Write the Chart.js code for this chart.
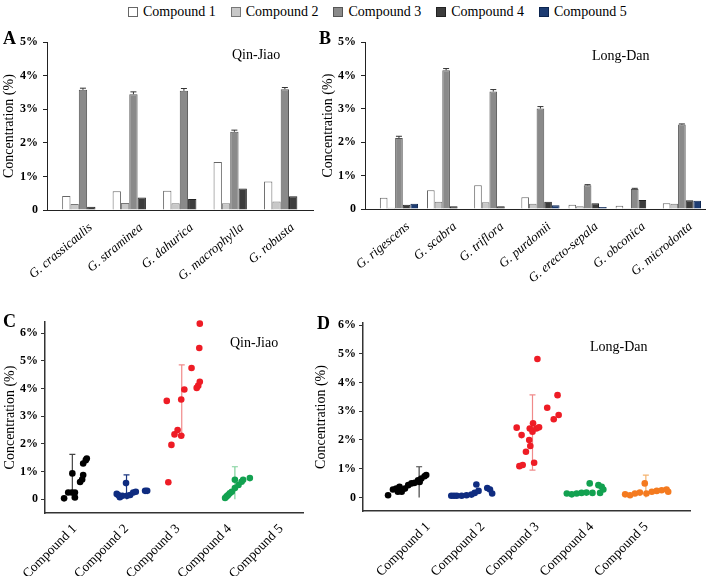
<!DOCTYPE html>
<html>
<head>
<meta charset="utf-8">
<script src="https://cdn.jsdelivr.net/npm/chart.js@4"></script>
<style>
  body { margin: 0; background: #fff; width: 709px; height: 576px; position: relative; overflow: hidden; font-family: 'Liberation Serif', serif; }
  canvas { position: absolute; }
  .lbl { position: absolute; font-family: 'Liberation Serif', serif; color: #000; white-space: nowrap; }
  .letter { font-size: 18px; font-weight: bold; }
  .pname { font-size: 14px; }
  #legend { position: absolute; left: 128px; top: 4px; display: flex; gap: 15px; font-size: 14px; }
  #legend span.item { display: flex; align-items: center; }
  #legend span.box { display: inline-block; width: 8px; height: 8px; margin-right: 5px; border: 1px solid #555; }
</style>
</head>
<body>
<div id="legend"></div>

<canvas id="chartA" width="330" height="260" style="left:0;top:30px"></canvas>
<canvas id="chartB" width="399" height="260" style="left:310px;top:30px"></canvas>
<canvas id="chartC" width="340" height="276" style="left:0;top:300px"></canvas>
<canvas id="chartD" width="399" height="276" style="left:310px;top:300px"></canvas>

<div class="lbl letter" style="left:3px;top:28px">A</div>
<div class="lbl letter" style="left:319px;top:28px">B</div>
<div class="lbl letter" style="left:3px;top:311px">C</div>
<div class="lbl letter" style="left:317px;top:313px">D</div>
<div class="lbl pname" style="left:232px;top:47px">Qin-Jiao</div>
<div class="lbl pname" style="left:592px;top:48px">Long-Dan</div>
<div class="lbl pname" style="left:230px;top:335px">Qin-Jiao</div>
<div class="lbl pname" style="left:590px;top:339px">Long-Dan</div>

<script>
// ---- data ----
const compounds = ['Compound 1', 'Compound 2', 'Compound 3', 'Compound 4', 'Compound 5'];
const barColors = ['#ffffff', '#c8c8c8', '#8a8a8a', '#3c3c3c', '#1d3c72'];
const barBorders = ['#666666', '#777777', '#555555', '#222222', '#0c2550'];

// A: Qin-Jiao species (%)
const qjSpecies = ['G. crassicaulis', 'G. straminea', 'G. dahurica', 'G. macrophylla', 'G. robusta'];
const qjC1 = [0.42, 0.56, 0.57, 1.43, 0.85];
const qjC2 = [0.18, 0.21, 0.20, 0.20, 0.25];
const qjC3 = [3.58, 3.45, 3.55, 2.33, 3.60];
const qjC4 = [0.10, 0.37, 0.33, 0.64, 0.41];
const qjC3Err = [0.05, 0.07, 0.07, 0.05, 0.05];

// B: Long-Dan species (%)
const ldSpecies = ['G. rigescens', 'G. scabra', 'G. triflora', 'G. purdomii', 'G. erecto-sepala', 'G. obconica', 'G. microdonta'];
const ldC1 = [0.34, 0.56, 0.71, 0.35, 0.13, 0.10, 0.17];
const ldC2 = [0.04, 0.22, 0.20, 0.16, 0.08, 0.02, 0.16];
const ldC3 = [2.13, 4.16, 3.52, 3.01, 0.71, 0.60, 2.53];
const ldC4 = [0.13, 0.08, 0.08, 0.22, 0.17, 0.27, 0.26];
const ldC5 = [0.16, null, null, 0.11, 0.06, null, 0.25];
const ldC3Err = [0.05, 0.05, 0.06, 0.06, 0.02, 0.02, 0.02];

// C: Qin-Jiao samples [x jitter, %]
const qjPts1 = [[0.87,0.03],[0.95,0.24],[1.02,0.24],[1.08,0.24],[1.08,0.06],[1.03,0.93],[1.18,0.62],[1.22,0.71],[1.24,0.87],[1.24,1.29],[1.29,1.41],[1.31,1.47]];
const qjPts2 = [[1.89,0.19],[1.92,0.15],[1.95,0.07],[2.00,0.12],[2.07,0.58],[2.09,0.12],[2.15,0.15],[2.21,0.24],[2.26,0.27],[2.44,0.30],[2.48,0.30]];
const qjPts3 = [[2.89,0.61],[2.95,1.96],[3.01,2.34],[3.07,2.50],[3.14,2.29],[2.86,3.55],[3.14,3.60],[3.20,3.96],[3.44,4.02],[3.47,4.10],[3.50,4.24],[3.34,4.74],[3.49,5.46],[3.50,6.34]];
const qjPts4 = [[3.99,0.04],[4.02,0.10],[4.05,0.15],[4.08,0.21],[4.12,0.27],[4.18,0.40],[4.25,0.51],[4.31,0.63],[4.18,0.70],[4.34,0.70],[4.47,0.76]];
const qjErrX = [1.03, 2.08, 3.15, 4.18];
const qjMean = [0.68, 0.23, 3.58, 0.42];
const qjSd = [0.94, 0.65, 1.27, 0.75];
const qjErrCol = ['#444444', '#1b3680', '#f08a8a', '#7fd19b'];

// D: Long-Dan samples [x jitter, %]
const ldPts1 = [[0.41,0.08],[0.50,0.28],[0.56,0.31],[0.59,0.20],[0.62,0.37],[0.66,0.20],[0.72,0.31],[0.78,0.43],[0.84,0.49],[0.90,0.51],[0.96,0.60],[0.99,0.54],[1.02,0.66],[1.08,0.74],[1.11,0.78]];
const ldPts2 = [[1.57,0.06],[1.62,0.06],[1.67,0.06],[1.76,0.06],[1.85,0.08],[1.94,0.10],[2.00,0.16],[2.03,0.45],[2.07,0.23],[2.23,0.33],[2.28,0.28],[2.32,0.14]];
const ldPts3 = [[2.77,2.43],[2.86,2.17],[3.01,2.40],[3.07,2.58],[3.06,2.29],[3.00,2.00],[3.02,1.79],[2.94,1.59],[2.82,1.09],[2.88,1.13],[3.09,1.21],[3.13,2.40],[3.18,2.44],[3.15,4.82],[3.33,3.12],[3.52,3.56],[3.45,2.72],[3.54,2.87]];
const ldPts4 = [[3.69,0.14],[3.78,0.11],[3.87,0.14],[3.96,0.16],[4.05,0.17],[4.11,0.49],[4.16,0.16],[4.27,0.43],[4.30,0.16],[4.33,0.37],[4.36,0.28]];
const ldPts5 = [[4.76,0.11],[4.85,0.08],[4.94,0.14],[5.03,0.17],[5.12,0.49],[5.15,0.14],[5.25,0.20],[5.34,0.23],[5.43,0.25],[5.52,0.28],[5.55,0.20]];
const ldErrX = [0.98, 3.06, 5.14];
const ldMean = [0.45, 2.26, 0.20];
const ldSd = [0.62, 1.31, 0.58];
const ldErrCol = ['#444444', '#f08a8a', '#f5b36e'];

const dotColors = ['#000000', '#0f2c80', '#ee1c25', '#12a150', '#f47a1f'];

Chart.defaults.font.family = "'Liberation Serif', serif";
Chart.defaults.color = '#000';
Chart.defaults.animation = false;

// legend at the top
const legendDiv = document.getElementById('legend');
compounds.forEach((c, i) => {
  const item = document.createElement('span');
  item.className = 'item';
  item.innerHTML = `<span class="box" style="background:${barColors[i]};border-color:${barBorders[i]}"></span>${c}`;
  legendDiv.appendChild(item);
});

const pctTick = v => v === 0 ? '0' : v + '%';
const toXY = arr => arr.map((v, i) => ({ x: i, y: v }));
const toPts = arr => arr.map(([x, y]) => ({ x, y }));

// error bars on the compound 3 bars
function barErrors(dsIndex, errs) {
  return {
    id: 'barErr' + dsIndex,
    afterDatasetsDraw(chart) {
      const ctx = chart.ctx, y = chart.scales.y;
      const meta = chart.getDatasetMeta(dsIndex);
      ctx.save();
      ctx.strokeStyle = '#333';
      ctx.lineWidth = 1;
      meta.data.forEach((bar, i) => {
        const v = chart.data.datasets[dsIndex].data[i].y;
        const top = y.getPixelForValue(v + errs[i]);
        ctx.beginPath();
        ctx.moveTo(bar.x, bar.y);
        ctx.lineTo(bar.x, top);
        ctx.moveTo(bar.x - 3, top);
        ctx.lineTo(bar.x + 3, top);
        ctx.stroke();
      });
      ctx.restore();
    }
  };
}

// mean +- sd bars behind the dots
function dotErrors(xs, means, sds, colors) {
  return {
    id: 'dotErr',
    beforeDatasetsDraw(chart) {
      const { ctx, scales: { x, y } } = chart;
      ctx.save();
      ctx.lineWidth = 1.2;
      xs.forEach((xv, i) => {
        const px = x.getPixelForValue(xv);
        const lo = means[i] - sds[i];
        const yTop = y.getPixelForValue(means[i] + sds[i]);
        const yBot = y.getPixelForValue(Math.max(lo, 0));
        ctx.strokeStyle = colors[i];
        ctx.beginPath();
        ctx.moveTo(px, yBot);
        ctx.lineTo(px, yTop);
        ctx.moveTo(px - 3, yTop);
        ctx.lineTo(px + 3, yTop);
        if (lo > 0) {
          ctx.moveTo(px - 3, yBot);
          ctx.lineTo(px + 3, yBot);
        }
        ctx.stroke();
      });
      ctx.restore();
    }
  };
}

function barChart(id, species, series, errs, o) {
  const datasets = series.map((s, i) => ({
    label: compounds[i],
    data: toXY(s),
    backgroundColor: barColors[i],
    borderColor: barBorders[i],
    borderWidth: 1,
    categoryPercentage: o.catPct,
    barPercentage: 1
  }));
  return new Chart(document.getElementById(id), {
    type: 'bar',
    data: { datasets },
    plugins: [barErrors(2, errs)],
    options: {
      responsive: false,
      layout: { padding: o.pad },
      plugins: { legend: { display: false }, tooltip: { enabled: false } },
      scales: {
        x: {
          type: 'linear', min: o.xMin, max: o.xMax, offset: false,
          afterBuildTicks: s => { s.ticks = species.map((_, i) => ({ value: i })); },
          afterFit: s => { s.height = o.xH; },
          ticks: {
            callback: v => species[v],
            minRotation: 40, maxRotation: 40, autoSkip: false,
            labelOffset: o.lblOff,
            font: { size: 13, style: 'italic' }, padding: 2
          },
          grid: { display: false },
          border: { color: '#222', width: 1 }
        },
        y: {
          min: 0, max: 5,
          afterBuildTicks: s => { s.ticks = [0, 1, 2, 3, 4, 5].map(v => ({ value: v })); },
          afterFit: s => { s.width = o.yW; },
          ticks: { callback: pctTick, font: { size: 12, weight: 'bold' }, padding: 5 },
          grid: { drawOnChartArea: false, tickLength: 4, color: '#222' },
          border: { color: '#222', width: 1 },
          title: { display: true, text: 'Concentration (%)', font: { size: 14 }, padding: { top: o.tPad, bottom: 0 } }
        }
      }
    }
  });
}

function dotChart(id, pts, errX, errMean, errSd, errCol, o) {
  const datasets = pts.map((p, i) => ({
    label: compounds[i],
    data: toPts(p),
    backgroundColor: dotColors[i],
    borderWidth: 0,
    pointRadius: 3.3,
    clip: false
  }));
  return new Chart(document.getElementById(id), {
    type: 'scatter',
    data: { datasets },
    plugins: [dotErrors(errX, errMean, errSd, errCol)],
    options: {
      responsive: false,
      layout: { padding: o.pad },
      plugins: { legend: { display: false }, tooltip: { enabled: false } },
      scales: {
        x: {
          type: 'linear', min: o.xMin, max: o.xMax,
          afterBuildTicks: s => { s.ticks = [1, 2, 3, 4, 5].map(v => ({ value: v })); },
          afterFit: s => { s.height = o.xH; },
          ticks: {
            callback: v => compounds[v - 1],
            minRotation: 45, maxRotation: 45, autoSkip: false,
            labelOffset: o.lblOff,
            font: { size: 13.5 }, padding: 0
          },
          grid: { display: false },
          border: { color: '#333', width: 1.5 }
        },
        y: {
          min: o.yMin, max: o.yMax,
          afterBuildTicks: s => { s.ticks = [0, 1, 2, 3, 4, 5, 6].map(v => ({ value: v })); },
          afterFit: s => { s.width = o.yW; },
          ticks: { callback: pctTick, font: { size: 12, weight: 'bold' }, padding: 3 },
          grid: { drawOnChartArea: false, tickLength: 4, color: '#333' },
          border: { color: '#333', width: 1.5 },
          title: { display: true, text: 'Concentration (%)', font: { size: 14 }, padding: { top: o.tPad, bottom: 0 } }
        }
      }
    }
  });
}

barChart('chartA', qjSpecies, [qjC1, qjC2, qjC3, qjC4], qjC3Err, {
  pad: { left: 0, top: 9, right: 17, bottom: 0 }, yW: 47, xH: 80, tPad: 1,
  xMin: -0.63, xMax: 4.64, catPct: 0.66, lblOff: 12
});

barChart('chartB', ldSpecies, [ldC1, ldC2, ldC3, ldC4, ldC5], ldC3Err, {
  pad: { left: 0, top: 12, right: 4, bottom: 0 }, yW: 55, xH: 81, tPad: 10,
  xMin: -0.72, xMax: 6.49, catPct: 0.81, lblOff: 9
});

dotChart('chartC', [qjPts1, qjPts2, qjPts3, qjPts4, []], qjErrX, qjMean, qjSd, qjErrCol, {
  pad: { left: 0, top: 22, right: 37, bottom: 0 }, yW: 45, xH: 63, tPad: 2,
  xMin: 0.5, xMax: 5.5, yMin: -0.5, yMax: 6.4, lblOff: 4
});

dotChart('chartD', [ldPts1, ldPts2, ldPts3, ldPts4, ldPts5], ldErrX, ldMean, ldSd, ldErrCol, {
  pad: { left: 0, top: 23, right: 19, bottom: 0 }, yW: 53, xH: 65, tPad: 3,
  xMin: -0.05, xMax: 5.95, yMin: -0.47, yMax: 6.07, lblOff: 8
});
</script>
</body>
</html>
